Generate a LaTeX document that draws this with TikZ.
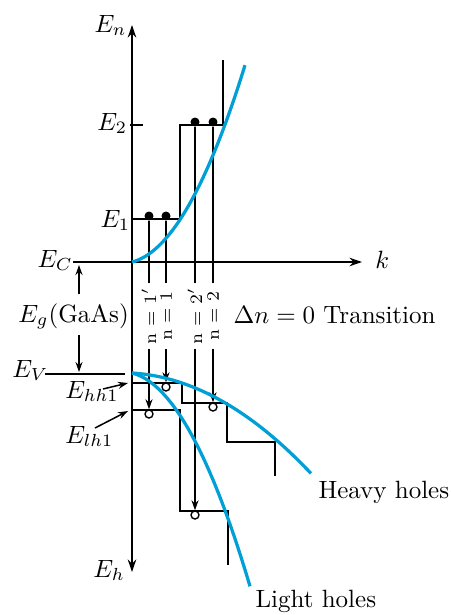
\documentclass[tikz,border=0pt]{standalone}
\usepackage{amsmath}
\usepackage{amssymb}
\usepackage{tikz}
\usetikzlibrary{arrows.meta}
\definecolor{bandblue}{RGB}{0,160,214}

\begin{document}
\begin{tikzpicture}[
                >={Stealth[length=4pt, width=2.8pt]},
                x=0.4pt,
                y=-0.4pt,
                declare function={
                    cband(\x) = 262 - 25*(\x/100-1.32) - 132*(\x/100-1.32)^2;
                    hhole(\x) = 373 + 6*(\x/100-1.32) + 28*(\x/100-1.32)^2;
                    lhole(\x) = 373 + 25*(\x/100-1.32) + 132*(\x/100-1.32)^2;
                },
                level/.style={line width=0.6pt},
                axis/.style={line width=0.6pt, >={Stealth[length=5pt, width=3.4pt]}},
                band/.style={line width=1.3pt, bandblue, samples=60},
                electron/.style={circle, fill=black, inner sep=0pt, minimum size=3.6pt},
                hole/.style={circle, draw, fill=white, line width=0.55pt, inner sep=0pt, minimum size=3.2pt},
                nlabel/.style={rotate=90, font=\scriptsize, inner sep=0pt, minimum width=26pt},
                lab/.style={inner sep=0pt, anchor=base west}
            ]

            \useasboundingbox (0,0) rectangle (451,615);

            % axes
            \draw[axis, <->] (132,572) -- (132,25);
            \draw[axis, ->] (73,262) -- (362,262);
            \draw[level] (130,125) -- (143,125);
            \draw[level] (45,374) -- (125,374);

            % quantized levels
            \draw[level] (132,219) -- (180,219) -- (180,125) -- (223,125) -- (223,60);
            \draw[level] (132,383) -- (182,383) -- (182,403) -- (227,403) -- (227,442) -- (275,442) -- (275,476);
            \draw[level] (132,410) -- (180,410) -- (180,511) -- (228,511) -- (228,565);

            % labels
            \node[lab] (En) at (94,32) {$E_n$};
            \node[lab] (E2) at (97,130) {$E_2$};
            \node[lab] (E1) at (100,227) {$E_1$};
            \node[lab] (EC) at (37,267) {$E_C$};
            \node[lab] (k) at (375,268) {$k$};
            \node[lab] (Eg) at (18,322) {$E_g$(GaAs)};
            \node[lab] (EV) at (12,377) {$E_V$};
            \node[lab] (Ehh) at (65,398) {$E_{hh1}$};
            \node[lab] (Elh) at (65,443) {$E_{lh1}$};
            \node[lab] (Eh) at (93,577) {$E_h$};
            \node[lab] (trans) at (233,323) {$\Delta n = 0$ Transition};
            \node[lab] (heavy) at (318,498) {Heavy holes};
            \node[lab] (light) at (255,607) {Light holes};

            % gap arrows
            \coordinate (egup) at (79,294);
            \coordinate (ectip) at (79,265);
            \coordinate (egdn) at (79,335);
            \coordinate (evtip) at (79,372);
            \draw[level, ->] (egup) -- (ectip);
            \draw[level, ->] (egdn) -- (evtip);

            \coordinate (hhtail) at (103,389);
            \coordinate (hhtip) at (128,383);
            \coordinate (lhtail) at (95,428);
            \coordinate (lhtip) at (128,411);
            \draw[level, ->] (hhtail) -- (hhtip);
            \draw[level, ->] (lhtail) -- (lhtip);

            % electrons, transitions, holes
            \node[electron] (e1a) at (149,216) {};
            \node[electron] (e1b) at (166,216) {};
            \node[electron] (e2a) at (195,122) {};
            \node[electron] (e2b) at (213,122) {};

            \node[nlabel] (n1p) at (149,316) {n $=$ 1$'$};
            \node[nlabel] (n1) at (166,316) {n $=$ 1};
            \node[nlabel] (n2p) at (195,316) {n $=$ 2$'$};
            \node[nlabel] (n2) at (213,316) {n $=$ 2};

            \node[hole] (h1p) at (149,414) {};
            \node[hole] (h1) at (166,387) {};
            \node[hole] (h2p) at (195,515) {};
            \node[hole] (h2) at (213,407) {};

            \draw[level] (e1a) -- (n1p.east);
            \draw[level] (e1b) -- (n1.east);
            \draw[level] (e2a) -- (n2p.east);
            \draw[level] (e2b) -- (n2.east);
            \draw[level, ->] (n1p.west) -- (h1p.north);
            \draw[level, ->] (n1.west) -- (h1.north);
            \draw[level, ->] (n2p.west) -- (h2p.north);
            \draw[level, ->] (n2.west) -- (h2.north);

            % bands
            \draw[band, domain=132:245] plot (\x, {cband(\x)});
            \draw[band, domain=132:311] plot (\x, {hhole(\x)});
            \draw[band, domain=132:250] plot (\x, {lhole(\x)});

            \end{tikzpicture}
\end{document}
